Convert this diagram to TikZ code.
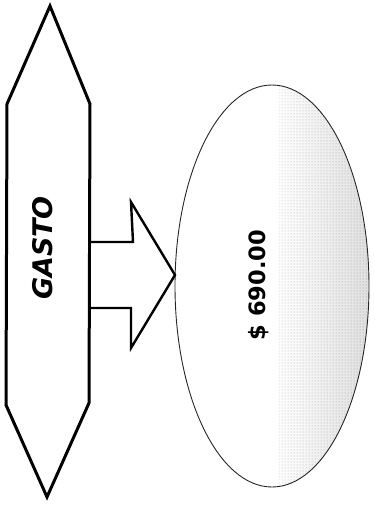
\documentclass[tikz,border=0pt]{standalone}
\usepackage{fontspec}
\setmainfont{DejaVu Sans}
\usetikzlibrary{patterns}
\begin{document}
\begin{tikzpicture}[x=1pt,y=-1pt,
  hexline/.style={line width=3pt,line join=miter},
  arrline/.style={line width=2.4pt,line join=miter},
  lbl/.style={rotate=90,inner sep=0pt}]
\useasboundingbox (0,0) rectangle (375,507);
% hexagon
\draw[hexline] (50,6) -- (90,104) -- (89,403) -- (47,497) -- (6,405) -- (7,104) -- cycle;
\node[lbl,font=\bfseries\itshape\fontsize{27}{27}\selectfont] (gasto) at (43,248) {GASTO};
% ellipse
\coordinate (ec) at (272,286);
\begin{scope}
  \clip (ec) ellipse [x radius=97, y radius=201];
  \fill[pattern=dots, pattern color=black!65] (279,80) rectangle (372,490);
  \shade[left color=white, right color=gray!50, opacity=0.5] (279,80) rectangle (372,490);
\end{scope}
\draw[line width=0.9pt,black!85] (ec) ellipse [x radius=97, y radius=201];
\node[lbl,font=\bfseries\fontsize{22.5}{22.5}\selectfont] (valor) at (259,285) {\$ 690.00};
% block arrow
\draw[arrline,fill=white] (91,242) -- (133,242) -- (131,202) -- (175,275) -- (131,348) -- (131,308) -- (91,308);
\end{tikzpicture}
\end{document}
